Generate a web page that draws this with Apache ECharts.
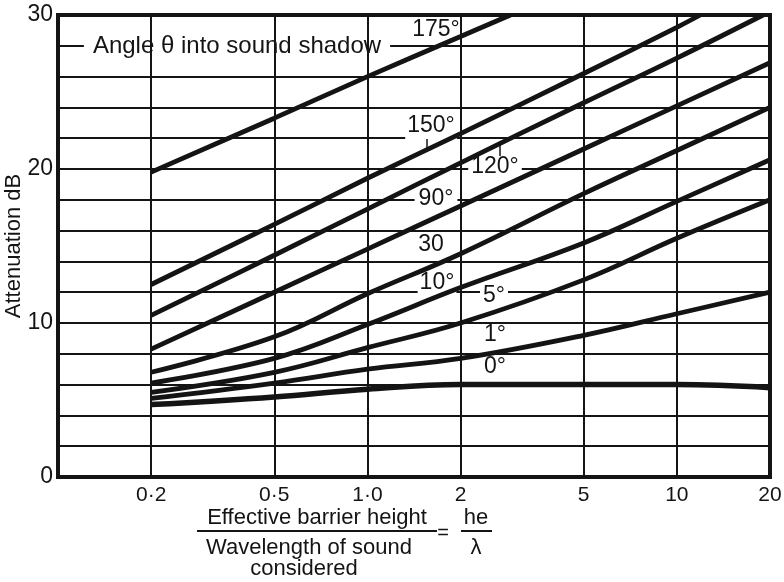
<!DOCTYPE html>
<html>
<head>
<meta charset="utf-8">
<script src="https://cdn.jsdelivr.net/npm/echarts@6/dist/echarts.min.js"></script>
<style>
  html, body { margin: 0; padding: 0; background: #fff; }
  #chart { width: 784px; height: 582px; }
</style>
</head>
<body>
<div id="chart"></div>
<script>
// ---- data ----
const xTicks = [0.2, 0.5, 1, 2, 5, 10, 20];
const xTickLabels = ['0·2', '0·5', '1·0', '2', '5', '10', '20'];
const xGridValues = [0.2, 0.5, 1, 2, 5, 10];
const yLabelValues = [0, 10, 20, 30];

const angle175 = [[0.2, 19.8], [0.5, 23.3], [1, 26.0], [2, 28.6], [2.9, 30]];
const angle150 = [[0.2, 12.5], [0.5, 16.4], [1, 19.4], [2, 22.3], [5, 26.2], [10, 29.2], [11.9, 30]];
const angle120 = [[0.2, 10.5], [0.5, 14.4], [1, 17.4], [2, 20.4], [5, 24.3], [10, 27.2], [19, 30]];
const angle90  = [[0.2, 8.3], [0.5, 12.0], [1, 14.8], [2, 17.6], [5, 21.3], [10, 24.1], [20, 26.9]];
const angle30  = [[0.2, 6.8], [0.5, 9.1], [1, 11.9], [2, 14.5], [5, 18.4], [10, 21.2], [20, 24.0]];
const angle10  = [[0.2, 6.1], [0.5, 7.7], [1, 9.9], [2, 12.3], [5, 15.2], [10, 17.9], [20, 20.6]];
const angle5   = [[0.2, 5.5], [0.5, 6.8], [1, 8.4], [2, 10.0], [5, 12.8], [10, 15.5], [20, 18.0]];
const angle1   = [[0.2, 5.1], [0.5, 6.1], [1, 7.0], [2, 7.7], [5, 9.2], [10, 10.6], [20, 12.0]];
const angle0   = [[0.2, 4.7], [0.5, 5.2], [1, 5.7], [2, 6.0], [5, 6.0], [10, 6.0], [20, 5.8]];

const curveNames = ['175°', '150°', '120°', '90°', '30', '10°', '5°', '1°', '0°'];
const curveData = [angle175, angle150, angle120, angle90, angle30, angle10, angle5, angle1, angle0];

// ---- styling ----
const INK = '#141414';
const FONT = "'Liberation Sans', Arial, Helvetica, sans-serif";

function tickLabel(v) {
  for (let i = 0; i < xTicks.length; i++) {
    if (Math.abs(v - xTicks[i]) / xTicks[i] < 1e-4) return xTickLabels[i];
  }
  return '';
}

const series = curveData.map((d, i) => ({
  name: curveNames[i],
  type: 'line',
  data: d,
  showSymbol: false,
  smooth: 0.4,
  clip: true,
  silent: true,
  z: 3,
  lineStyle: { color: INK, width: i === 8 ? 5.5 : 4.8, cap: 'butt' }
}));

// vertical grid lines at the labelled x values, drawn through the x scale
series.push({
  type: 'line',
  data: [],
  silent: true,
  z: 1,
  markLine: {
    silent: true,
    symbol: 'none',
    label: { show: false },
    lineStyle: { type: 'solid', color: INK, width: 2 },
    data: xGridValues.map(v => ({ xAxis: v }))
  }
});

function txt(text, x, y, size, extra) {
  return {
    type: 'text', z: 2,
    style: Object.assign({
      text: text, x: x, y: y,
      font: size + 'px ' + FONT,
      fill: INK, textAlign: 'center', textVerticalAlign: 'middle'
    }, extra || {})
  };
}
const WHITE = { backgroundColor: '#fff' };

const option = {
  animation: false,
  backgroundColor: '#fff',
  grid: {
    left: 58, right: 14, top: 15, bottom: 105,
    containLabel: false, outerBoundsMode: 'none',
    show: true, borderColor: INK, borderWidth: 4, backgroundColor: '#fff'
  },
  xAxis: {
    type: 'log', logBase: 10, min: 0.1, max: 20,
    axisLine: { show: true, lineStyle: { color: INK, width: 4 } },
    axisTick: { show: false },
    minorTick: { show: false },
    splitLine: { show: false },
    axisLabel: {
      customValues: xTicks,
      formatter: tickLabel,
      color: INK, fontSize: 21, fontFamily: FONT, margin: 8
    }
  },
  yAxis: {
    type: 'value', min: 0, max: 30, interval: 2,
    name: 'Attenuation dB', nameLocation: 'middle', nameGap: 33, nameRotate: 90,
    nameMoveOverlap: false,
    nameTextStyle: { color: INK, fontSize: 22, fontFamily: FONT },
    axisLine: { show: true, lineStyle: { color: INK, width: 4 } },
    axisTick: { show: false },
    splitLine: { show: true, lineStyle: { color: INK, width: 2 } },
    axisLabel: {
      formatter: v => (yLabelValues.indexOf(v) >= 0 ? String(v) : ''),
      color: INK, fontSize: 23, fontFamily: FONT, margin: 5
    }
  },
  series: series,
  graphic: [
    txt('Angle θ into sound shadow', 237, 46, 24, Object.assign({ padding: [5, 9] }, WHITE)),
    txt('175°', 436, 30, 23),
    txt('150°', 431, 126, 23, Object.assign({ padding: [1, 2, 5, 2] }, WHITE)),
    { type: 'line', z: 2, shape: { x1: 427, y1: 139, x2: 427, y2: 148 }, style: { stroke: INK, lineWidth: 1.5 } },
    txt('120°', 495, 167, 23, Object.assign({ padding: [0, 3] }, WHITE)),
    { type: 'line', z: 2, shape: { x1: 500, y1: 145, x2: 500, y2: 156 }, style: { stroke: INK, lineWidth: 1.5 } },
    txt('90°', 436, 199, 23, Object.assign({ padding: [0, 4] }, WHITE)),
    txt('30', 431, 245, 23),
    txt('10°', 437, 283, 23, Object.assign({ padding: [0, 2, 1, 2] }, WHITE)),
    txt('5°', 494, 296, 23, Object.assign({ padding: [0, 3] }, WHITE)),
    txt('1°', 495, 335, 23),
    txt('0°', 495, 367, 23),
    // x-axis title as a fraction
    txt('Effective barrier height', 317, 518, 22),
    { type: 'line', z: 2, shape: { x1: 197, y1: 531, x2: 437, y2: 531 }, style: { stroke: INK, lineWidth: 2 } },
    txt('Wavelength of sound', 309, 548, 22),
    txt('considered', 304, 569, 22),
    txt('=', 443, 533, 20),
    txt('he', 476, 518, 22),
    { type: 'line', z: 2, shape: { x1: 461, y1: 531, x2: 492, y2: 531 }, style: { stroke: INK, lineWidth: 2 } },
    txt('λ', 476, 548, 22)
  ]
};

const chart = echarts.init(document.getElementById('chart'), null, { renderer: 'canvas' });
chart.setOption(option);
</script>
</body>
</html>
